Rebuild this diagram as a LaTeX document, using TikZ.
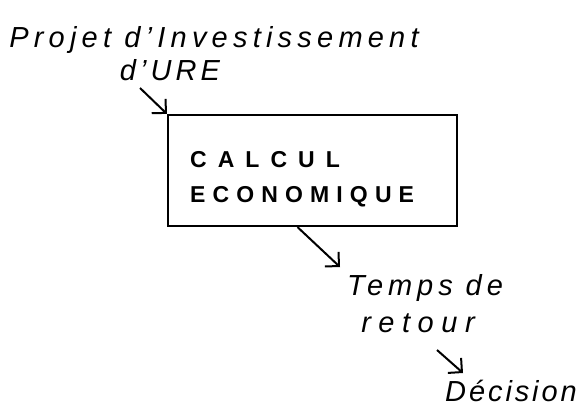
\documentclass[tikz,border=0pt]{standalone}
\usepackage{fontspec}
\setmainfont{Liberation Sans}
\usetikzlibrary{arrows.meta}
\begin{document}
\begin{tikzpicture}[x=1pt,y=-1pt,
  hand/.style={font=\fontsize{29}{34}\selectfont\itshape\addfontfeatures{LetterSpace=#1}, inner sep=0pt},
  hand/.default=10,
  boxtxt/.style={font=\fontsize{23}{28}\selectfont\bfseries\addfontfeatures{LetterSpace=#1}, inner sep=0pt, anchor=west},
  conn/.style={line width=2pt, -{Straight Barb[length=10pt,width=20pt,line width=2pt]}},
  frame/.style={draw, line width=2.2pt, minimum width=289pt, minimum height=111pt, inner sep=0pt}]
\useasboundingbox (0,0) rectangle (586,409);
\node[hand=18] (title) at (214,40) {Projet d'Investissement};
\node[hand=14] (ure) at (170,70) {d'URE};
\node[frame] (box) at (312.5,170.5) {};
\node[boxtxt=48] (calc) at (190,160) {CALCUL};
\node[boxtxt=31] (eco) at (190,197) {ECONOMIQUE};
\node[hand=17] (temps) at (425,288) {Temps de};
\node[hand=26] (retour) at (418,323) {retour};
\node[hand=10] (dec) at (511,391) {Décision};
\coordinate (s1) at (140,88);
\coordinate (e2) at (340,267);
\coordinate (s3) at (437,350);
\coordinate (e3) at (463,373);
\draw[conn] (s1) -- (box.north west);
\draw[conn] ([xshift=-15pt]box.south) -- (e2);
\draw[conn] (s3) -- (e3);
\end{tikzpicture}
\end{document}
